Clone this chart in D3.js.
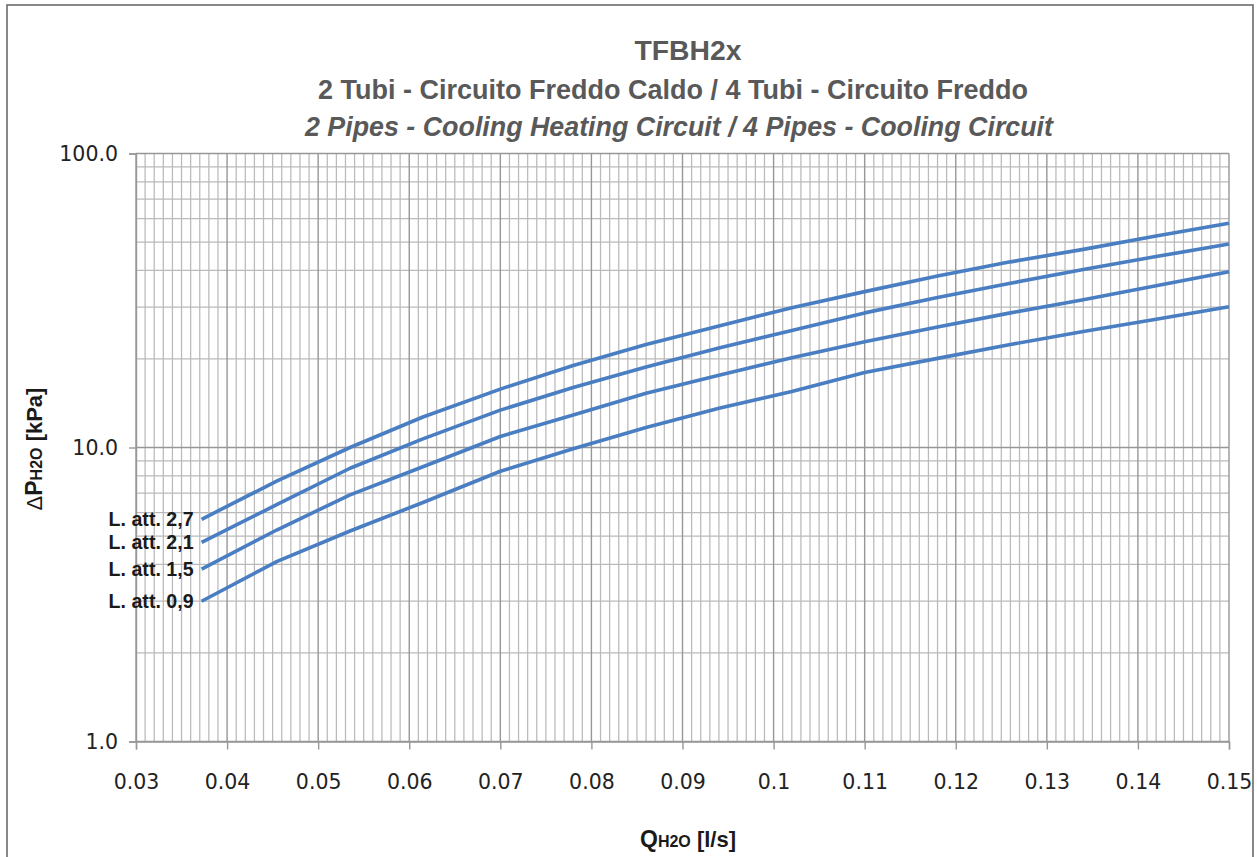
<!DOCTYPE html>
<html><head><meta charset="utf-8">
<script src="https://cdn.jsdelivr.net/npm/d3@7"></script>
<style>
html,body{margin:0;padding:0;background:#fff;}
svg{display:block;}
</style></head>
<body>
<svg id="chart" width="1257" height="857"></svg>
<script>
// ---------- data ----------
const flowValues = [0.0372, 0.0455, 0.0535, 0.0615, 0.070, 0.078, 0.086, 0.094, 0.102, 0.110, 0.118, 0.126, 0.134, 0.142, 0.150];
const seriesNames = ["L. att. 2,7", "L. att. 2,1", "L. att. 1,5", "L. att. 0,9"];
const att27 = [5.7, 7.7, 10.0, 12.7, 15.8, 19.0, 22.4, 25.9, 29.9, 33.9, 38.3, 42.8, 47.2, 52.4, 57.9];
const att21 = [4.76, 6.4, 8.5, 10.7, 13.4, 16.0, 18.8, 21.8, 25.0, 28.7, 32.4, 36.2, 40.3, 44.6, 49.2];
const att15 = [3.86, 5.25, 6.9, 8.6, 10.9, 12.9, 15.3, 17.6, 20.2, 22.9, 25.7, 28.7, 31.8, 35.5, 39.6];
const att09 = [3.0, 4.1, 5.2, 6.5, 8.3, 9.9, 11.7, 13.6, 15.5, 18.0, 20.1, 22.4, 24.8, 27.3, 30.1];
const xTickValues = [0.03, 0.04, 0.05, 0.06, 0.07, 0.08, 0.09, 0.10, 0.11, 0.12, 0.13, 0.14, 0.15];
const xTickLabels = ["0.03", "0.04", "0.05", "0.06", "0.07", "0.08", "0.09", "0.1", "0.11", "0.12", "0.13", "0.14", "0.15"];
const yTickValues = [1, 10, 100];
const yTickLabels = ["1.0", "10.0", "100.0"];
const titleLines = ["TFBH2x", "2 Tubi - Circuito Freddo Caldo / 4 Tubi - Circuito Freddo", "2 Pipes - Cooling Heating Circuit / 4 Pipes - Cooling Circuit"];

const seriesValues = [att27, att21, att15, att09];

// ---------- layout ----------
const svg = d3.select("#chart");
const pLeft = 136, pRight = 1229, pTop = 153.5, pBottom = 741.5;
const x = d3.scaleLinear().domain([0.03, 0.15]).range([pLeft, pRight]);
const y = d3.scaleLog().domain([1, 100]).range([pBottom, pTop]);

// outer border
svg.append("rect").attr("x", 7).attr("y", 5).attr("width", 1246).attr("height", 900)
  .attr("fill", "none").attr("stroke", "#6b6b6b").attr("stroke-width", 1.6);

// ---------- grid ----------
const grid = svg.append("g");
const vMinor = d3.range(31, 150).filter(i => i % 10 !== 0).map(i => i / 1000);
grid.selectAll("line.vmin").data(vMinor).join("line")
  .attr("x1", d => x(d)).attr("x2", d => x(d)).attr("y1", pTop).attr("y2", pBottom)
  .attr("stroke", "#bababa").attr("stroke-width", 1.25);
const hMinor = [];
[1, 10].forEach(dec => { for (let k = 2; k <= 9; k++) hMinor.push(dec * k); });
grid.selectAll("line.hmin").data(hMinor).join("line")
  .attr("x1", pLeft).attr("x2", pRight).attr("y1", d => y(d)).attr("y2", d => y(d))
  .attr("stroke", "#bababa").attr("stroke-width", 1.25);
grid.selectAll("line.vmaj").data(xTickValues).join("line")
  .attr("x1", d => x(d)).attr("x2", d => x(d)).attr("y1", pTop).attr("y2", pBottom)
  .attr("stroke", "#979797").attr("stroke-width", 1.4);
grid.selectAll("line.hmaj").data(yTickValues).join("line")
  .attr("x1", pLeft).attr("x2", pRight).attr("y1", d => y(d)).attr("y2", d => y(d))
  .attr("stroke", "#979797").attr("stroke-width", 1.4);

// ---------- axes ----------
const xAxis = svg.append("g").attr("transform", `translate(0,${pBottom})`)
  .call(d3.axisBottom(x).tickValues(xTickValues).tickFormat((d, i) => xTickLabels[i]).tickSize(8).tickPadding(25));
xAxis.select(".domain").attr("stroke", "#979797").attr("stroke-width", 1.4);
xAxis.selectAll(".tick line").attr("stroke", "#979797").attr("stroke-width", 1.4);
xAxis.selectAll(".tick text").attr("font-family", "DejaVu Sans, Verdana, sans-serif")
  .attr("font-size", 20.5).attr("fill", "#222");

const yAxis = svg.append("g").attr("transform", `translate(${pLeft},0)`)
  .call(d3.axisLeft(y).tickValues(yTickValues).tickFormat((d, i) => yTickLabels[i]).tickSize(7).tickPadding(11));
yAxis.select(".domain").attr("stroke", "#979797").attr("stroke-width", 1.4);
yAxis.selectAll(".tick line").attr("stroke", "#979797").attr("stroke-width", 1.4);
yAxis.selectAll(".tick text").attr("font-family", "DejaVu Sans, Verdana, sans-serif")
  .attr("font-size", 20.5).attr("fill", "#222");

// ---------- series ----------
const line = d3.line().x((d, i) => x(flowValues[i])).y(d => y(d));
svg.append("g").selectAll("path").data(seriesValues).join("path")
  .attr("d", d => line(d)).attr("fill", "none")
  .attr("stroke", "#4a7ec2").attr("stroke-width", 3.6).attr("stroke-linejoin", "round");

svg.append("g").selectAll("text").data(seriesValues).join("text")
  .attr("x", x(flowValues[0]) - 8).attr("y", d => y(d[0]))
  .attr("dy", "0.35em").attr("text-anchor", "end")
  .attr("font-family", "Liberation Sans, Arial, sans-serif").attr("font-weight", "bold")
  .attr("font-size", 19.5).attr("fill", "#1a1a1a")
  .attr("textLength", 85).attr("lengthAdjust", "spacingAndGlyphs")
  .text((d, i) => seriesNames[i]);

// ---------- titles ----------
const tFont = "Liberation Sans Narrow, Arial Narrow, Liberation Sans, Arial, sans-serif";
svg.append("text").attr("x", 688).attr("y", 60).attr("text-anchor", "middle")
  .attr("font-family", tFont).attr("font-weight", "bold").attr("font-size", 27).attr("fill", "#595959")
  .attr("textLength", 107).attr("lengthAdjust", "spacingAndGlyphs").text(titleLines[0]);
svg.append("text").attr("x", 673).attr("y", 99).attr("text-anchor", "middle")
  .attr("font-family", tFont).attr("font-weight", "bold").attr("font-size", 27).attr("fill", "#595959")
  .attr("textLength", 710).attr("lengthAdjust", "spacingAndGlyphs").text(titleLines[1]);
svg.append("text").attr("x", 679).attr("y", 136).attr("text-anchor", "middle")
  .attr("font-family", tFont).attr("font-weight", "bold").attr("font-style", "italic").attr("font-size", 27).attr("fill", "#595959")
  .attr("textLength", 748).attr("lengthAdjust", "spacingAndGlyphs").text(titleLines[2]);

// ---------- axis titles ----------
const axFont = "Liberation Sans, Arial, sans-serif";
const xt = svg.append("text").attr("x", 688).attr("y", 847).attr("text-anchor", "middle")
  .attr("font-family", axFont).attr("font-weight", "bold").attr("fill", "#1a1a1a");
xt.append("tspan").attr("font-size", 23).text("Q");
xt.append("tspan").attr("font-size", 16).text("H2O");
xt.append("tspan").attr("font-size", 22).text(" [l/s]");

const yt = svg.append("text").attr("transform", "translate(42,449) rotate(-90)").attr("text-anchor", "middle")
  .attr("font-family", axFont).attr("font-weight", "bold").attr("fill", "#1a1a1a");
yt.append("tspan").attr("font-size", 22).attr("font-weight", "normal").text("Δ");
yt.append("tspan").attr("font-size", 23).text("P");
yt.append("tspan").attr("font-size", 16).text("H2O");
yt.append("tspan").attr("font-size", 22).text(" [kPa]");
</script>
</body></html>
